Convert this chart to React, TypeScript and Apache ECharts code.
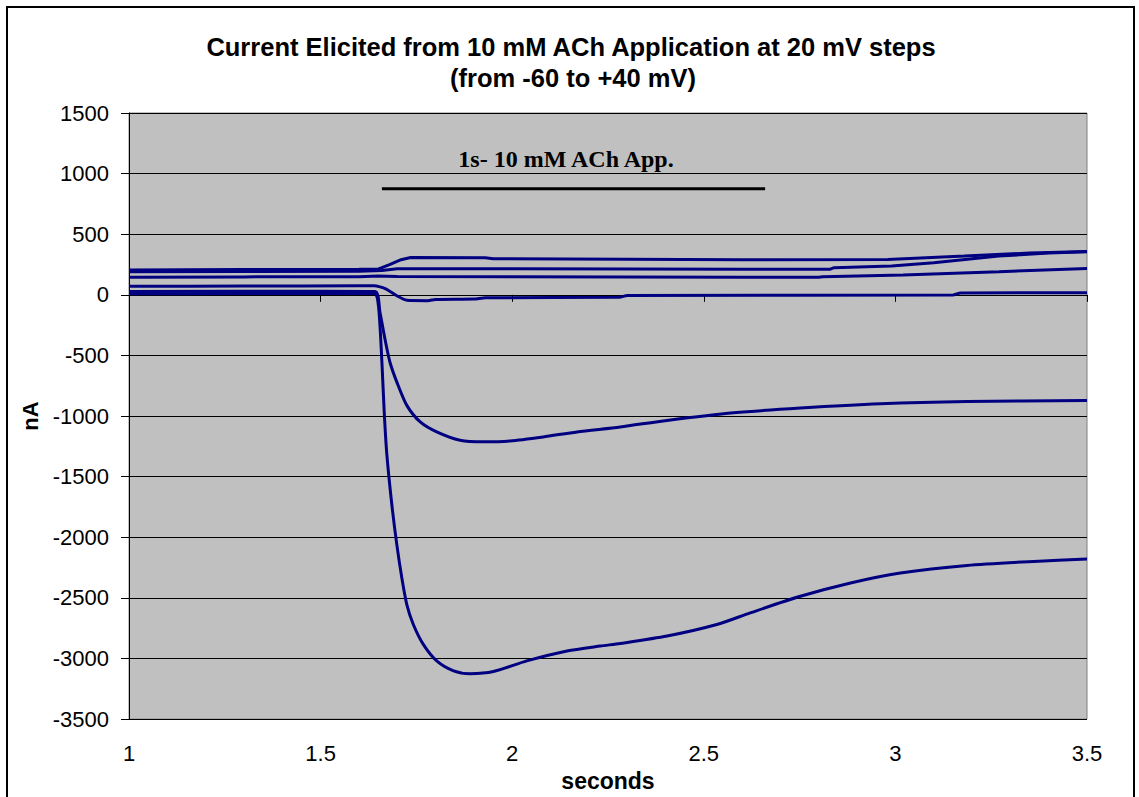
import { useEffect, useRef } from "react";
import * as echarts from "echarts";

// ---- Data ----
const titleLines = [
  "Current Elicited from 10 mM ACh Application at 20 mV steps",
  "(from -60 to +40 mV)",
];
const xAxisName = "seconds";
const yAxisName = "nA";
const annotationText = "1s- 10 mM ACh App.";

// application bar (1 s)
const appTime = [1.66, 2.66];
const appLevel = [875, 875];

// +40 mV
const p40Time = [1.0, 1.3, 1.6, 1.65, 1.68, 1.71, 1.735, 1.93, 1.95, 2.3, 2.6, 2.98, 3.18, 3.35, 3.5];
const p40Current = [205, 208, 210, 212, 250, 290, 308, 306, 298, 294, 290, 292, 320, 345, 358];
// +20 mV
const p20Time = [1.0, 1.3, 1.6, 1.66, 1.7, 2.0, 2.6, 2.83, 2.84, 2.99, 3.1, 3.27, 3.4, 3.5];
const p20Current = [190, 192, 195, 200, 215, 215, 212, 212, 224, 238, 265, 320, 345, 356];
// 0 mV
const z0Time = [1.0, 1.3, 1.6, 1.65, 1.7, 2.6, 2.8, 2.81, 3.02, 3.27, 3.5];
const z0Current = [145, 148, 150, 155, 152, 145, 145, 150, 163, 191, 218];
// -20 mV
const m20Time = [1.0, 1.3, 1.6, 1.64, 1.67, 1.7, 1.725, 1.78, 1.8, 1.9, 1.93, 2.28, 2.3, 3.15, 3.17, 3.5];
const m20Current = [70, 72, 75, 75, 50, -10, -45, -48, -38, -35, -25, -20, -5, -2, 15, 17];
// -40 mV
const m40Time = [1.0, 1.5, 1.642, 1.655, 1.668, 1.681, 1.699, 1.725, 1.76, 1.803, 1.864, 1.925, 1.995, 2.081, 2.169, 2.282, 2.404, 2.578, 2.752, 2.961, 3.187, 3.5];
const m40Current = [28, 30, 28, -146, -365, -556, -720, -912, -1049, -1131, -1200, -1213, -1205, -1172, -1131, -1090, -1036, -973, -934, -899, -880, -871];
// -60 mV
const m60Time = [1.0, 1.3, 1.5, 1.64, 1.651, 1.66, 1.666, 1.673, 1.686, 1.699, 1.712, 1.725, 1.742, 1.768, 1.803, 1.847, 1.89, 1.951, 2.038, 2.143, 2.23, 2.282, 2.404, 2.534, 2.621, 2.752, 2.883, 3.013, 3.187, 3.361, 3.5];
const m60Current = [8, 10, 12, 10, -91, -556, -967, -1323, -1734, -2063, -2336, -2555, -2720, -2884, -3020, -3102, -3125, -3108, -3020, -2938, -2897, -2876, -2815, -2720, -2624, -2487, -2377, -2295, -2232, -2199, -2180];

const traces = [
  { name: "+40 mV", t: p40Time, v: p40Current, smooth: 0 },
  { name: "+20 mV", t: p20Time, v: p20Current, smooth: 0 },
  { name: "0 mV", t: z0Time, v: z0Current, smooth: 0 },
  { name: "-20 mV", t: m20Time, v: m20Current, smooth: 0.2 },
  { name: "-40 mV", t: m40Time, v: m40Current, smooth: 0.25 },
  { name: "-60 mV", t: m60Time, v: m60Current, smooth: 0.25 },
];

const zip = (a: number[], b: number[]) => a.map((x, i) => [x, b[i]]);

const SANS = '"Liberation Sans", Arial, sans-serif';
const SERIF = '"Liberation Serif", "Times New Roman", serif';

export default function App() {
  const ref = useRef<HTMLDivElement>(null);
  useEffect(() => {
    document.body.style.margin = "0";
    if (!ref.current) return;
    const chart = echarts.init(ref.current, null, { renderer: "svg" });
    const lineSeries = traces.map((tr) => ({
      name: tr.name,
      type: "line" as const,
      data: zip(tr.t, tr.v),
      showSymbol: false,
      symbol: "none",
      smooth: tr.smooth,
      lineStyle: { color: "#000080", width: 3 },
      itemStyle: { color: "#000080" },
      z: 3,
    }));
    chart.setOption({
      animation: false,
      backgroundColor: "#ffffff",
      grid: {
        left: 129,
        top: 113,
        right: 52,
        bottom: 75,
        show: true,
        backgroundColor: "#C0C0C0",
        borderColor: "#808080",
        borderWidth: 1,
      },
      xAxis: {
        type: "value",
        min: 1,
        max: 3.5,
        interval: 0.5,
        name: xAxisName,
        nameLocation: "middle",
        nameGap: 43,
        nameTextStyle: { fontFamily: SANS, fontWeight: "bold", fontSize: 23, color: "#000" },
        axisLine: { show: true, lineStyle: { color: "#000", width: 1 } },
        axisTick: { show: true, inside: false, length: 7, lineStyle: { color: "#000" } },
        axisLabel: { fontFamily: SANS, fontSize: 22, color: "#000", margin: 23, formatter: (v: number) => String(v) },
        splitLine: { show: false },
      },
      yAxis: {
        type: "value",
        min: -3500,
        max: 1500,
        interval: 500,
        name: yAxisName,
        nameLocation: "middle",
        nameRotate: 90,
        nameGap: 78,
        nameTextStyle: { fontFamily: SANS, fontWeight: "bold", fontSize: 22, color: "#000" },
        axisLine: { show: true, lineStyle: { color: "#000", width: 1 } },
        axisTick: { show: true, inside: false, length: 8, lineStyle: { color: "#000" } },
        axisLabel: { fontFamily: SANS, fontSize: 22, color: "#000", margin: 20, formatter: (v: number) => String(v) },
        splitLine: { show: true, lineStyle: { color: "#000", width: 1 } },
      },
      series: [
        ...lineSeries,
        {
          name: "application",
          type: "line",
          data: zip(appTime, appLevel),
          showSymbol: false,
          symbol: "none",
          lineStyle: { color: "#000", width: 3 },
          z: 2,
        },
      ],
      graphic: [
        {
          type: "rect",
          shape: { x: 7, y: 7, width: 1127, height: 810 },
          style: { fill: "none", stroke: "#000", lineWidth: 2 },
          z: 100,
        },
        {
          type: "text",
          x: 571,
          y: 47,
          style: {
            text: titleLines[0],
            font: `bold 25.5px ${SANS}`,
            fill: "#000",
            align: "center",
            verticalAlign: "middle",
          },
        },
        {
          type: "text",
          x: 573,
          y: 78,
          style: {
            text: titleLines[1],
            font: `bold 25.5px ${SANS}`,
            fill: "#000",
            align: "center",
            verticalAlign: "middle",
          },
        },
        {
          type: "text",
          x: 566,
          y: 159,
          style: {
            text: annotationText,
            font: `bold 24px ${SERIF}`,
            fill: "#000",
            align: "center",
            verticalAlign: "middle",
          },
          z: 50,
        },
      ],
    });
    return () => chart.dispose();
  }, []);
  return <div ref={ref} style={{ width: 1139, height: 797 }} />;
}
